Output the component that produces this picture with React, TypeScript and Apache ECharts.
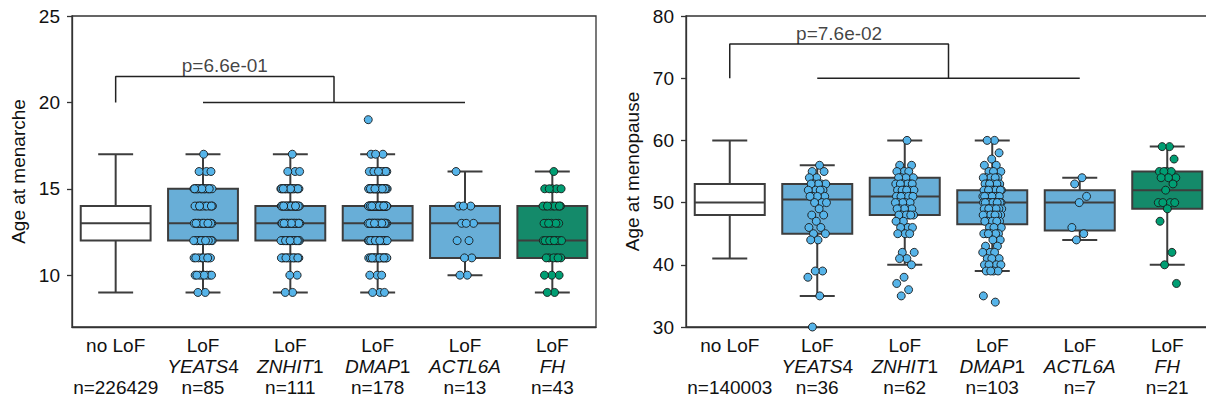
import React, { useEffect, useRef } from 'react';
import * as echarts from 'echarts';

const FONT = '"Liberation Sans", Arial, Helvetica, sans-serif';

// ---------- data ----------
const categories = ['no LoF', 'YEATS4', 'ZNHIT1', 'DMAP1', 'ACTL6A', 'FH'];
const geneItalic = ['', 'YEATS', 'ZNHIT', 'DMAP', 'ACTL6A', 'FH'];
const geneSuffix = ['', '4', '1', '1', '', ''];
const menarcheN = ['226429', '85', '111', '178', '13', '43'];
const menopauseN = ['140003', '36', '62', '103', '7', '21'];

// box stats: [lower whisker, Q1, median, Q3, upper whisker]
const menarcheBoxes = [
  [9, 12, 13, 14, 17],
  [9, 12, 13, 15, 17],
  [9, 12, 13, 14, 17],
  [9, 12, 13, 14, 17],
  [10, 11, 13, 14, 16],
  [9, 11, 12, 14, 16],
];
const menopauseBoxes = [
  [41, 48, 50, 53, 60],
  [35, 45, 50.5, 53, 56],
  [40, 48, 51, 54, 60],
  [39, 46.5, 50, 52, 60],
  [44, 45.5, 50, 52, 54],
  [40, 49, 52, 55, 59],
];

// menarche: integer ages and number of carriers at each age
const menarcheAges = [9, 10, 11, 12, 13, 14, 15, 16, 17, 19];
const menarcheCounts = [
  [0, 0, 0, 0, 0, 0, 0, 0, 0, 0],
  [2, 8, 9, 16, 18, 10, 18, 3, 1, 0],
  [2, 2, 12, 22, 27, 22, 20, 3, 1, 0],
  [3, 3, 18, 32, 40, 38, 30, 10, 3, 1],
  [0, 2, 2, 2, 3, 3, 0, 1, 0, 0],
  [2, 3, 6, 11, 6, 9, 5, 1, 0, 0],
];

// menopause: individual carrier values
const menopauseYEATS4 = [56, 55, 55, 54, 54, 53, 53, 53, 53, 53, 52, 52, 52, 52, 51, 51, 51, 51, 50, 50, 50, 49, 48, 48, 47, 46, 46, 45, 45, 44, 44, 39, 39, 38, 35, 30];
const menopauseZNHIT1 = [60, 56, 56, 55, 55, 55, 54, 54, 54, 54, 53, 53, 53, 53, 53, 53, 52, 52, 52, 52, 52, 52, 51, 51, 51, 51, 51, 51, 51, 50, 50, 50, 50, 50, 49, 49, 49, 49, 49, 48, 48, 48, 48, 48, 48, 47, 47, 46, 46, 46, 45, 45, 45, 42, 42, 41, 41, 40, 38, 37, 36, 35];
const menopauseDMAP1 = [60, 60, 58, 57, 56, 56, 55, 55, 55, 54, 54, 54, 54, 54, 53, 53, 53, 53, 53, 53, 52, 52, 52, 52, 52, 52, 52, 52, 52, 51, 51, 51, 51, 51, 51, 51, 51, 51, 51, 50, 50, 50, 50, 50, 50, 50, 50, 50, 50, 50, 50, 50, 50, 49, 49, 49, 49, 49, 49, 49, 49, 49, 48, 48, 48, 48, 48, 48, 48, 47, 47, 47, 47, 47, 46, 46, 46, 45, 45, 45, 45, 45, 45, 44, 44, 43, 43, 42, 42, 42, 41, 41, 41, 40, 40, 40, 40, 39, 39, 39, 39, 35, 34];
const menopauseACTL6A = [54, 53, 51, 50, 46, 45, 44];
const menopauseFH = [59, 59, 57, 55, 55, 55, 55, 54, 54, 54, 53, 52, 50, 50, 50, 50, 49, 47, 42, 40, 37];
const menopausePoints = [[], menopauseYEATS4, menopauseZNHIT1, menopauseDMAP1, menopauseACTL6A, menopauseFH];

// brackets / p-values
const menarcheP = 'p=6.6e-01';
const menopauseP = 'p=7.6e-02';
const menarcheBracket = { low: 20, high: 21.5 };
const menopauseBracket = { low: 70, high: 75.5 };

// ---------- styles ----------
const boxFills = ['#ffffff', '#68AED7', '#68AED7', '#68AED7', '#68AED7', '#148A6A'];
const pointColors = ['#56B4E9', '#56B4E9', '#56B4E9', '#56B4E9', '#56B4E9', '#009E73'];
const LINE = '#3d3d3d';
const AXIS = '#333333';
const TEXT = '#111111';
const JITTER = 0.11;

function jitterOffset(k: number) {
  const f = (k * 0.6180339887) % 1;
  return (f - 0.5) * 2 * JITTER;
}

function buildPoints(valuesPerCat: number[][]) {
  const out: any[] = [];
  valuesPerCat.forEach((vals, ci) => {
    vals.forEach((v, k) => {
      out.push({ value: [ci + jitterOffset(k + 1), v], itemStyle: { color: pointColors[ci] } });
    });
  });
  return out;
}

const menarchePointValues: number[][] = menarcheCounts.map((counts) => {
  const vals: number[] = [];
  counts.forEach((c, ai) => {
    for (let j = 0; j < c; j++) vals.push(menarcheAges[ai]);
  });
  return vals;
});

function labelFormatter(nList: string[]) {
  return (_v: any, idx: number) => {
    if (idx === 0) return `{a|no LoF}\n{a| }\n{a|n=${nList[0]}}`;
    const suf = geneSuffix[idx] ? `{a|${geneSuffix[idx]}}` : '';
    return `{a|LoF}\n{i|${geneItalic[idx]}}${suf}\n{a|n=${nList[idx]}}`;
  };
}

const rich = {
  a: { fontSize: 19, lineHeight: 21, fontFamily: FONT, color: TEXT },
  i: { fontSize: 19, lineHeight: 21, fontFamily: FONT, color: TEXT, fontStyle: 'italic' },
};

function boxRender(params: any, api: any) {
  const i = api.value(0);
  const lo = api.value(1), q1 = api.value(2), med = api.value(3), q3 = api.value(4), hi = api.value(5);
  const cx = api.coord([i, med])[0];
  const bw = api.size([1, 0])[0] * 0.8;
  const half = bw / 2;
  const cap = bw / 4;
  const yLo = api.coord([i, lo])[1];
  const yQ1 = api.coord([i, q1])[1];
  const yMed = api.coord([i, med])[1];
  const yQ3 = api.coord([i, q3])[1];
  const yHi = api.coord([i, hi])[1];
  const ls = { stroke: LINE, lineWidth: 2 };
  return {
    type: 'group',
    children: [
      { type: 'line', shape: { x1: cx, y1: yLo, x2: cx, y2: yQ1 }, style: ls },
      { type: 'line', shape: { x1: cx, y1: yQ3, x2: cx, y2: yHi }, style: ls },
      { type: 'line', shape: { x1: cx - cap, y1: yLo, x2: cx + cap, y2: yLo }, style: ls },
      { type: 'line', shape: { x1: cx - cap, y1: yHi, x2: cx + cap, y2: yHi }, style: ls },
      { type: 'rect', shape: { x: cx - half, y: yQ3, width: bw, height: yQ1 - yQ3 }, style: { fill: boxFills[i], stroke: LINE, lineWidth: 2 } },
      { type: 'line', shape: { x1: cx - half, y1: yMed, x2: cx + half, y2: yMed }, style: ls },
    ],
  };
}

function panelSeries(gi: number, boxes: number[][], points: number[][], br: { low: number; high: number }, pText: string) {
  const xi = gi * 2 + 1;
  return [
    {
      type: 'custom',
      xAxisIndex: xi,
      yAxisIndex: gi,
      renderItem: boxRender,
      data: boxes.map((b, i) => [i, ...b]),
      z: 2,
      silent: true,
    },
    {
      type: 'scatter',
      xAxisIndex: xi,
      yAxisIndex: gi,
      data: buildPoints(points),
      symbolSize: 8,
      itemStyle: { borderColor: '#1a1a1a', borderWidth: 0.9, opacity: 1 },
      z: 3,
      silent: true,
    },
    {
      type: 'line',
      xAxisIndex: xi,
      yAxisIndex: gi,
      data: [[0, br.low], [0, br.high], [2.5, br.high], [2.5, br.low]],
      symbol: 'none',
      lineStyle: { color: '#222', width: 1.5 },
      z: 4,
      silent: true,
    },
    {
      type: 'line',
      xAxisIndex: xi,
      yAxisIndex: gi,
      data: [[1, br.low], [4, br.low]],
      symbol: 'none',
      lineStyle: { color: '#222', width: 1.5 },
      z: 4,
      silent: true,
    },
    {
      type: 'scatter',
      xAxisIndex: xi,
      yAxisIndex: gi,
      data: [[1.25, br.high]],
      symbolSize: 0.1,
      itemStyle: { color: 'rgba(0,0,0,0)' },
      label: { show: true, position: 'top', distance: 1, formatter: pText, fontSize: 19, fontFamily: FONT, color: TEXT },
      z: 5,
      silent: true,
    },
  ];
}

function catAxis(gi: number, nList: string[]) {
  return {
    type: 'category',
    gridIndex: gi,
    data: categories,
    boundaryGap: true,
    axisLine: { onZero: false, lineStyle: { color: AXIS, width: 1.3 } },
    axisTick: { alignWithLabel: true, length: 5, lineStyle: { color: AXIS, width: 1.3 } },
    axisLabel: { interval: 0, margin: 8, formatter: labelFormatter(nList), rich },
    splitLine: { show: false },
  };
}

function valXAxis(gi: number) {
  return { type: 'value', gridIndex: gi, min: -0.5, max: 5.5, show: false, axisLine: { onZero: false } };
}

function App() {
  const ref = useRef<HTMLDivElement>(null);
  useEffect(() => {
    if (!ref.current) return;
    const chart = echarts.init(ref.current, undefined, { renderer: 'svg' });
    const yCommon = {
      nameLocation: 'middle',
      nameGap: 44,
      nameTextStyle: { fontSize: 19, fontFamily: FONT, color: TEXT },
      axisLine: { show: true, onZero: false, lineStyle: { color: AXIS, width: 1.3 } },
      splitLine: { show: false },
    };
    chart.setOption({
      animation: false,
      backgroundColor: '#ffffff',
      textStyle: { fontFamily: FONT },
      grid: [
        { left: 72, top: 16, width: 524, height: 311, show: true, borderColor: AXIS, borderWidth: 1.3, containLabel: false, outerBoundsMode: 'none' },
        { left: 686, top: 16, width: 525, height: 311, show: true, borderColor: AXIS, borderWidth: 1.3, containLabel: false, outerBoundsMode: 'none' },
      ],
      xAxis: [catAxis(0, menarcheN), valXAxis(0), catAxis(1, menopauseN), valXAxis(1)],
      yAxis: [
        {
          ...yCommon,
          type: 'value',
          gridIndex: 0,
          min: 7,
          max: 25,
          name: 'Age at menarche',
          axisTick: { show: true, length: 5, customValues: [10, 15, 20, 25], lineStyle: { color: AXIS, width: 1.3 } },
          axisLabel: { customValues: [10, 15, 20, 25], margin: 12, fontSize: 19, fontFamily: FONT, color: TEXT },
        },
        {
          ...yCommon,
          type: 'value',
          gridIndex: 1,
          min: 30,
          max: 80,
          interval: 10,
          name: 'Age at menopause',
          axisTick: { show: true, length: 5, lineStyle: { color: AXIS, width: 1.3 } },
          axisLabel: { margin: 12, fontSize: 19, fontFamily: FONT, color: TEXT },
        },
      ],
      series: [
        ...panelSeries(0, menarcheBoxes, menarchePointValues, menarcheBracket, menarcheP),
        ...panelSeries(1, menopauseBoxes, menopausePoints, menopauseBracket, menopauseP),
      ],
    });
    return () => chart.dispose();
  }, []);
  return <div ref={ref} style={{ position: 'fixed', left: 0, top: 0, width: 1206, height: 403, background: '#fff' }} />;
}

export default App;
